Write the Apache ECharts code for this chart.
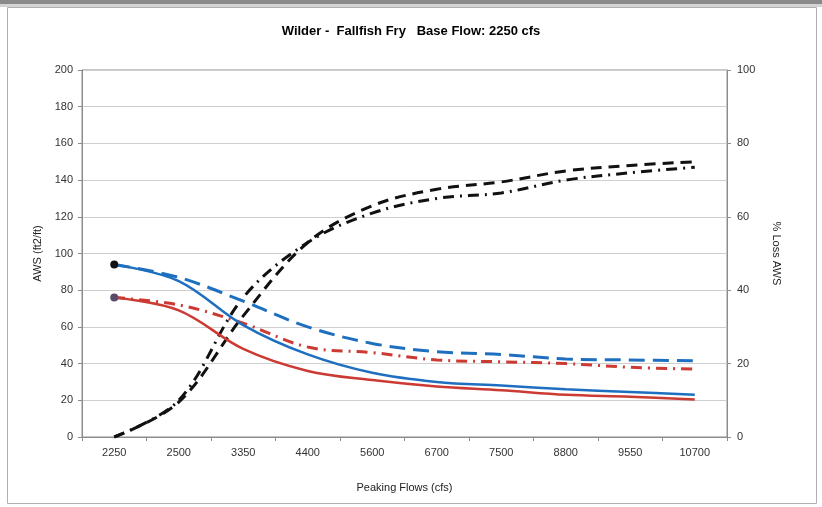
<!DOCTYPE html>
<html>
<head>
<meta charset="utf-8">
<script src="https://cdn.jsdelivr.net/npm/echarts@6/dist/echarts.min.js"></script>
<style>
  html, body { margin: 0; padding: 0; background: #fff; }
  #chart { width: 822px; height: 507px; }
</style>
</head>
<body>
<div id="chart"></div>
<script>
// peaking flows (cfs)
var flows = ['2250', '2500', '3350', '4400', '5600', '6700', '7500', '8800', '9550', '10700'];

// AWS (ft2/ft), left axis
var blueSolid  = [94, 85, 61, 45, 35, 30, 28, 26, 24.5, 23];
var blueDash   = [94, 87, 74, 60, 51, 46.5, 45, 42.5, 42, 41.5];
var redSolid   = [76, 69, 48, 36, 31, 27.5, 25.5, 23, 22, 20.5];
var redDashDot = [76, 72, 62, 49, 46, 42, 41, 40, 38, 37];

// % Loss AWS, right axis
var lossDash    = [0, 9.5, 33, 53, 63, 67.5, 69.5, 72.5, 74, 75];
var lossDashDot = [0, 10, 38, 53, 61, 65, 66.5, 70, 72, 73.5];

var chart = echarts.init(document.getElementById('chart'));
var font = 'Liberation Sans, Arial, sans-serif';

// only first point gets a marker
function firstDot(val, p) { return p.dataIndex === 0 ? 8 : 0; }

function line(name, data, color, width, type, yIdx, dot, dotColor) {
    return {
        name: name,
        type: 'line',
        yAxisIndex: yIdx,
        data: data,
        smooth: 0.35,
        symbol: 'circle',
        symbolSize: dot ? firstDot : 0,
        showAllSymbol: true,
        itemStyle: { color: dotColor || color },
        lineStyle: { color: color, width: width, type: type },
        emphasis: { disabled: true },
        z: dot ? 3 : 2
    };
}

chart.setOption({
    animation: false,
    backgroundColor: '#fff',
    title: {
        text: 'Wilder -  Fallfish Fry   Base Flow: 2250 cfs',
        left: 'center',
        top: 20,
        textStyle: { fontFamily: font, fontSize: 13, fontWeight: 'bold', color: '#000' }
    },
    graphic: [
        { type: 'rect', shape: { x: 0, y: 0, width: 822, height: 4 }, style: { fill: '#8a8a8a' } },
        { type: 'rect', shape: { x: 0, y: 4, width: 822, height: 3 }, style: { fill: '#d4d4d4' } },
        { type: 'rect', shape: { x: 7.5, y: 7.5, width: 809, height: 496 }, style: { fill: 'none', stroke: '#b0b0b0', lineWidth: 1 } }
    ],
    grid: { left: 82, right: 95, top: 70, bottom: 70, show: true, borderColor: '#8c8c8c', borderWidth: 1 },
    xAxis: {
        type: 'category',
        data: flows,
        boundaryGap: true,
        name: 'Peaking Flows (cfs)',
        nameLocation: 'middle',
        nameGap: 45,
        nameTextStyle: { fontFamily: font, fontSize: 11, color: '#222' },
        axisLine: { lineStyle: { color: '#8c8c8c' } },
        axisTick: { show: true, length: 4, lineStyle: { color: '#8c8c8c' } },
        axisLabel: { fontFamily: font, fontSize: 11, color: '#333', margin: 10 },
        splitLine: { show: false }
    },
    yAxis: [
        {
            type: 'value',
            min: 0, max: 200, interval: 20,
            name: 'AWS (ft2/ft)',
            nameLocation: 'middle',
            nameGap: 39,
            nameTextStyle: { fontFamily: font, fontSize: 11, color: '#222' },
            axisLine: { show: true, lineStyle: { color: '#8c8c8c' } },
            axisTick: { show: true, length: 4, lineStyle: { color: '#8c8c8c' } },
            axisLabel: { fontFamily: font, fontSize: 11, color: '#333', margin: 9 },
            splitLine: { lineStyle: { color: '#cfcfcf', width: 1 } }
        },
        {
            type: 'value',
            position: 'right',
            min: 0, max: 100, interval: 20,
            name: '% Loss AWS',
            nameLocation: 'middle',
            nameRotate: -90,
            nameGap: 44,
            nameTextStyle: { fontFamily: font, fontSize: 11, color: '#222' },
            axisLine: { show: true, lineStyle: { color: '#8c8c8c' } },
            axisTick: { show: true, length: 4, lineStyle: { color: '#8c8c8c' } },
            axisLabel: { fontFamily: font, fontSize: 11, color: '#333', margin: 10 },
            splitLine: { show: false }
        }
    ],
    series: [
        line('loss dash', lossDash, '#111', 3, [11, 7], 1, false),
        line('loss dashdot', lossDashDot, '#111', 3, [11, 6, 2, 6], 1, false),
        line('blue dash', blueDash, '#1f6fc0', 3, [16, 8], 0, false),
        line('red dashdot', redDashDot, '#cc3b33', 3, [11, 6, 2, 6], 0, false),
        line('red solid', redSolid, '#cc3b33', 2.5, 'solid', 0, true, '#5a4a6a'),
        line('blue solid', blueSolid, '#1f6fc0', 2.5, 'solid', 0, true, '#111')
    ]
});
</script>
</body>
</html>
